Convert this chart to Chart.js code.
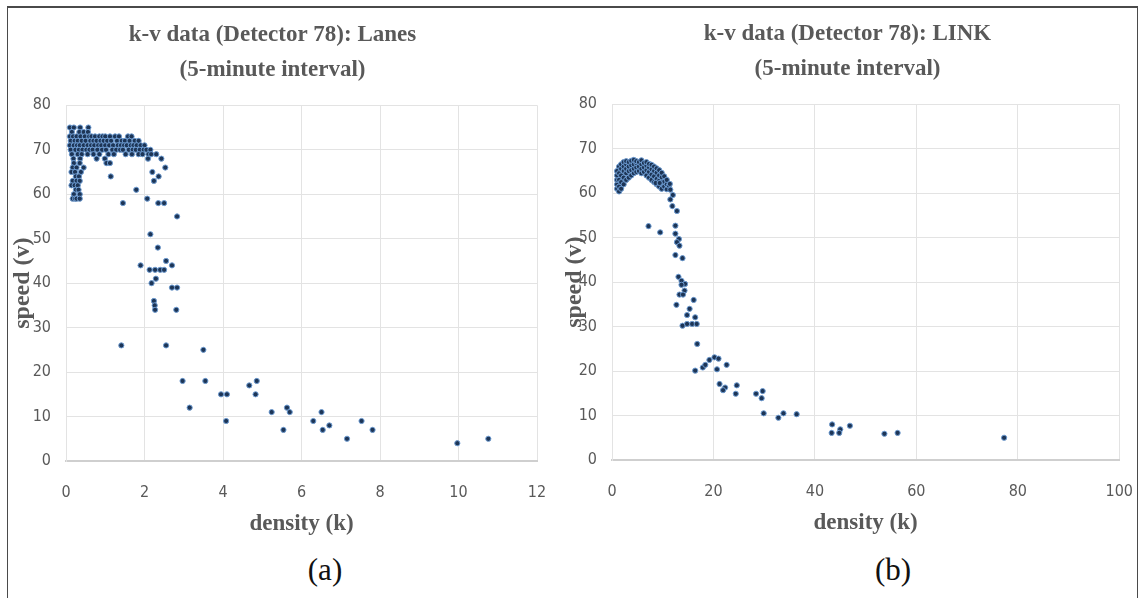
<!DOCTYPE html>
<html lang="en">
<head>
<meta charset="UTF-8">
<title>k-v data (Detector 78)</title>
<script src="https://cdn.jsdelivr.net/npm/chart.js@4.4.1/dist/chart.umd.min.js"></script>
<style>
  body { margin: 0; background: #fff; width: 1140px; height: 598px; overflow: hidden; position: relative; }
  .frame { position: absolute; left: 7px; top: 6px; width: 1129px; height: 600px;
           border-top: 2px solid #4a4a4a; border-left: 1px solid #4a4a4a; border-right: 1px solid #4a4a4a; }
  #laneChart { position: absolute; left: 0; top: 0; }
  #linkChart { position: absolute; left: 560px; top: -1px; }
  .tag { position: absolute; top: 553px; font-family: 'Liberation Serif', 'Times New Roman', serif;
         font-size: 31px; line-height: 34px; color: #111; transform: translateX(-50%); }
</style>
</head>
<body>
<div class="frame"></div>
<canvas id="laneChart" width="570" height="550"></canvas>
<canvas id="linkChart" width="595" height="550"></canvas>
<div class="tag" style="left:325px">(a)</div>
<div class="tag" style="left:893px">(b)</div>

<script>
// panel titles
const laneTitle = ['k-v data (Detector 78): Lanes', '(5-minute interval)'];
const linkTitle = ['k-v data (Detector 78): LINK', '(5-minute interval)'];
const xLabel = 'density (k)';
const yLabel = 'speed (v)';

// (a) Lanes: density k and speed v
const laneK = [
  0.10, 0.20, 0.36, 0.57,
  0.15, 0.34, 0.45, 0.56,
  0.10, 0.18, 0.27, 0.37, 0.48, 0.59, 0.65, 0.74, 0.85, 0.93, 1.00, 1.12, 1.25, 1.35, 1.58, 1.67,
  0.12, 0.22, 0.30, 0.40, 0.50, 0.62, 0.70, 0.78, 0.88, 0.96, 1.05, 1.15, 1.30, 1.42, 1.50, 1.62, 1.75, 1.85,
  0.10, 0.20, 0.28, 0.35, 0.45, 0.55, 0.64, 0.72, 0.82, 0.90, 1.00, 1.10, 1.20, 1.32, 1.40, 1.48, 1.55, 1.65, 1.72, 1.80, 1.90, 2.00,
  0.12, 0.24, 0.33, 0.42, 0.52, 0.60, 0.68, 0.80, 0.92, 1.02, 1.18, 1.28, 1.38, 1.45, 1.60, 1.70, 1.78, 1.88, 1.98, 2.05, 2.15,
  0.15, 0.30, 0.40, 0.55, 0.70, 0.85, 1.08, 1.22, 1.52, 1.68, 1.85, 1.95, 2.10, 2.17, 2.30,
  0.19, 0.36, 0.78, 0.99, 2.09, 2.43,
  0.20, 0.35, 1.03, 1.12,
  0.17, 0.27, 0.45, 2.53,
  0.14, 0.23, 0.38, 2.20,
  0.25, 0.33, 1.14, 2.36,
  0.17, 0.27, 0.35, 2.24,
  0.14, 0.22, 0.30,
  0.25, 0.32, 1.79,
  0.20, 0.35,
  0.17, 0.23, 0.27, 0.35, 2.07,
  1.45, 2.35, 2.50,
  2.83, 2.15, 2.34, 2.55,
  1.90, 2.70,
  2.13, 2.27, 2.40, 2.50,
  2.29, 2.18, 2.70, 2.83,
  2.24, 2.26, 2.27, 2.81,
  1.41, 2.55, 3.50,
  2.97, 3.55, 4.86, 4.67,
  3.95, 4.10, 4.83,
  3.15, 5.63,
  5.24, 5.70, 6.51,
  4.08, 6.30, 7.53,
  6.71,
  5.54, 6.54, 7.81,
  7.16, 10.76, 9.97
];
const laneV = [
  75, 75, 75, 75,
  74, 74, 74, 74,
  73, 73, 73, 73, 73, 73, 73, 73, 73, 73, 73, 73, 73, 73, 73, 73,
  72, 72, 72, 72, 72, 72, 72, 72, 72, 72, 72, 72, 72, 72, 72, 72, 72, 72,
  71, 71, 71, 71, 71, 71, 71, 71, 71, 71, 71, 71, 71, 71, 71, 71, 71, 71, 71, 71, 71, 71,
  70, 70, 70, 70, 70, 70, 70, 70, 70, 70, 70, 70, 70, 70, 70, 70, 70, 70, 70, 70, 70,
  69, 69, 69, 69, 69, 69, 69, 69, 69, 69, 69, 69, 69, 69, 69,
  68, 68, 68, 68, 68, 68,
  67, 67, 67, 67,
  66, 66, 66, 66,
  65, 65, 65, 65,
  64, 64, 64, 64,
  63, 63, 63, 63,
  62, 62, 62,
  61, 61, 61,
  60, 60,
  59, 59, 59, 59, 59,
  58, 58, 58,
  55, 51, 48, 45,
  44, 44,
  43, 43, 43, 43,
  41, 40, 39, 39,
  36, 35, 34, 34,
  26, 26, 25,
  18, 18, 18, 17,
  15, 15, 15,
  12, 12,
  11, 11, 11,
  9, 9, 9,
  8,
  7, 7, 7,
  5, 5, 4
];

// (b) LINK: density k and speed v
const linkK = [
  1.0, 1.0, 1.0, 1.0, 1.0,
  1.4, 1.4, 1.4, 1.4, 1.4,
  1.8, 1.8, 1.8, 1.8, 1.8,
  2.3, 2.3, 2.3, 2.3, 2.3,
  2.8, 2.8, 2.8, 2.8, 2.8,
  3.3, 3.3, 3.3, 3.3,
  3.8, 3.8, 3.8, 3.8,
  4.3, 4.3, 4.3, 4.3,
  4.8, 4.8, 4.8, 4.8,
  5.3, 5.3, 5.3,
  5.8, 5.8, 5.8, 5.8,
  6.3, 6.3, 6.3,
  6.8, 6.8, 6.8, 6.8,
  7.3, 7.3, 7.3, 7.3,
  7.8, 7.8, 7.8, 7.8,
  8.3, 8.3, 8.3, 8.3,
  8.8, 8.8, 8.8, 8.8,
  9.3, 9.3, 9.3, 9.3,
  9.8, 9.8, 9.8, 9.8,
  10.3, 10.3, 10.3,
  10.8, 10.8, 10.8,
  11.2, 8.6, 9.4,
  11.4, 11.5, 12.0, 11.5, 11.9, 12.8,
  7.2, 9.5,
  12.5, 12.5, 13.2, 12.8, 13.3, 12.5, 13.9,
  13.1, 13.7, 14.4, 13.7, 14.3, 13.3, 14.0, 12.7, 16.1, 15.3, 14.8, 16.4, 13.9, 14.8, 15.8, 16.7, 16.8,
  16.4, 17.9, 18.4, 19.2, 20.2, 21.0, 20.7, 22.6, 21.2, 22.3, 21.9, 24.6, 24.4,
  28.4, 29.7, 29.5, 29.9, 32.8, 33.8, 36.4,
  43.4, 43.3, 45.0, 44.8, 46.9, 53.7, 56.3, 77.3
];
const linkV = [
  61, 62, 63, 64, 65,
  60.4, 61.5, 63, 64.5, 66,
  61, 62.5, 64, 65.5, 66.5,
  62, 63.5, 65, 66, 67,
  63, 64.5, 65.5, 66.5, 67.2,
  63.5, 65, 66, 67,
  64, 65.2, 66.3, 67.3,
  64.5, 65.5, 66.5, 67.5,
  64.8, 65.8, 66.8, 67.2,
  65, 66, 67,
  64.5, 65.5, 66.5, 67.4,
  64.8, 65.8, 66.8,
  64, 65.2, 66.2, 67,
  63.5, 64.8, 65.8, 66.6,
  63, 64.2, 65.4, 66.4,
  62.5, 63.8, 65, 66,
  62, 63.2, 64.6, 65.6,
  61.5, 62.8, 64, 65.2,
  61, 62.5, 63.6, 64.6,
  61.5, 62.6, 63.8,
  60.9, 62, 63,
  61.7, 62.3, 62.3,
  62.1, 60.8, 59.6, 58.6, 57.1, 56.0,
  52.6, 51.2,
  52.7, 50.9, 49.7, 49.0, 48.2, 46.1, 45.4,
  41.2, 40.3, 39.6, 39.4, 38.1, 37.2, 37.2, 34.9, 36.0, 34.0, 32.6, 32.1, 30.2, 30.6, 30.6, 30.6, 26.1,
  20.1, 20.8, 21.4, 22.5, 23.1, 22.8, 20.4, 21.4, 17.1, 16.3, 15.7, 16.8, 14.9,
  14.9, 15.5, 13.9, 10.5, 9.5, 10.5, 10.3,
  8.0, 6.1, 6.9, 6.1, 7.7, 5.9, 6.1, 5.0
];

const grey = '#595959';
const serif = "'Liberation Serif', 'Times New Roman', serif";
const narrow = "'Liberation Sans Narrow', 'DejaVu Sans Condensed', 'Liberation Sans', sans-serif";

function makeChart(id, title, ks, vs, xMax, xStep, padLeft, padRight, yWidth) {
  const points = ks.map((k, i) => ({ x: k, y: vs[i] }));
  return new Chart(document.getElementById(id), {
    type: 'scatter',
    data: {
      datasets: [{
        data: points,
        pointRadius: 2.6,
        pointBackgroundColor: '#1d3556',
        pointBorderColor: '#6d9bd1',
        pointBorderWidth: 1
      }]
    },
    options: {
      responsive: false,
      animation: false,
      layout: { padding: { left: padLeft, right: padRight, top: 0, bottom: 5 } },
      plugins: {
        legend: { display: false },
        tooltip: { enabled: false },
        title: {
          display: true,
          text: title,
          color: grey,
          font: { family: serif, size: 23, weight: 'bold', lineHeight: 1.55 },
          padding: { top: 17, bottom: 17 }
        }
      },
      scales: {
        x: {
          type: 'linear',
          min: 0,
          max: xMax,
          ticks: { stepSize: xStep, color: grey, font: { family: narrow, size: 16 }, padding: 22 },
          grid: { color: '#e3e3e3', drawTicks: false },
          border: { color: '#cfcfcf', width: 2 },
          title: {
            display: true,
            text: xLabel,
            color: grey,
            font: { family: serif, size: 23, weight: 'bold' },
            padding: { top: 0, bottom: 7 }
          },
          afterFit: s => { s.height = 84; }
        },
        y: {
          min: 0,
          max: 80,
          ticks: { stepSize: 10, color: grey, font: { family: narrow, size: 16 }, padding: 15 },
          grid: { color: '#e3e3e3', drawTicks: false },
          border: { color: '#e3e3e3' },
          title: {
            display: true,
            text: yLabel,
            color: grey,
            font: { family: serif, size: 24, weight: 'bold' },
            padding: { top: 0, bottom: 0 }
          },
          afterFit: s => { s.width = yWidth; }
        }
      }
    }
  });
}

makeChart('laneChart', laneTitle, laneK, laneV, 12, 2, 8, 33, 58);
makeChart('linkChart', linkTitle, linkK, linkV, 100, 20, 0, 20, 52);
</script>
</body>
</html>
